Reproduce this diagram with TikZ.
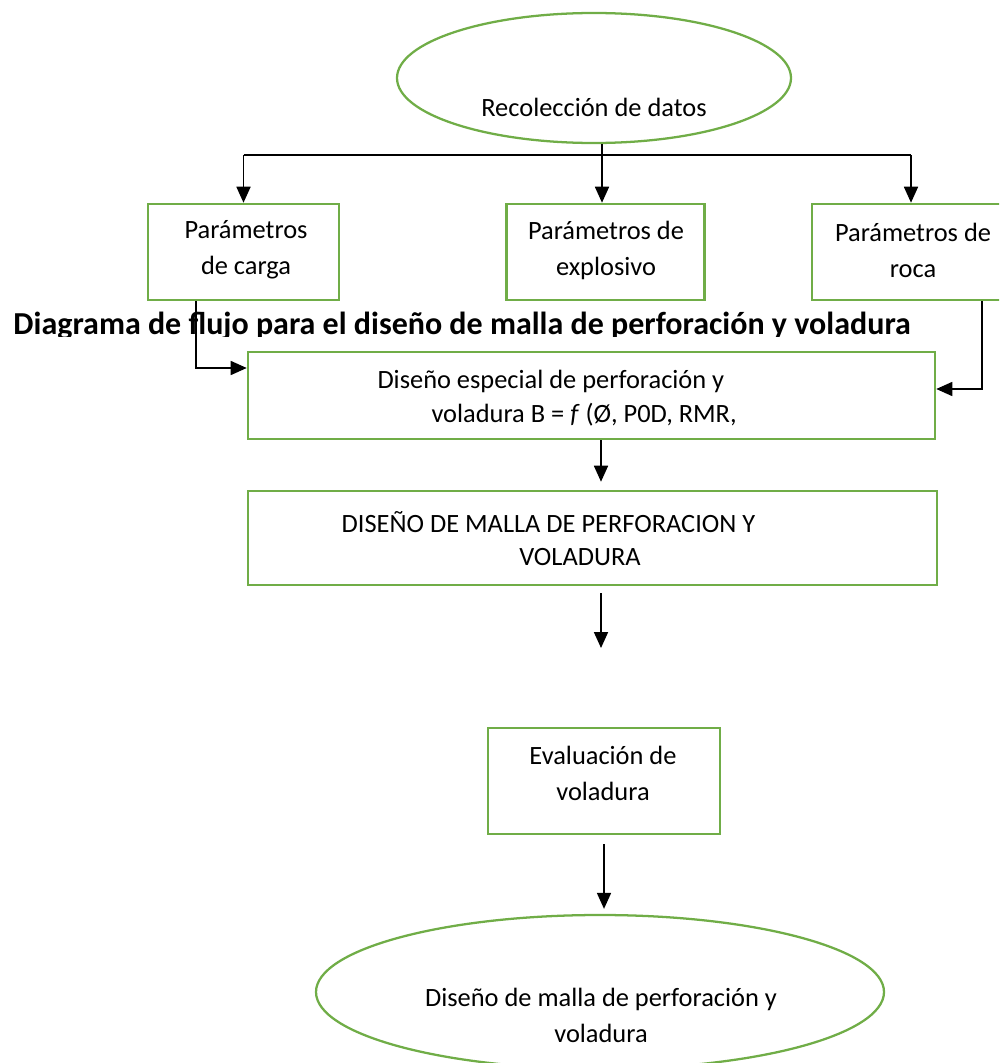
\documentclass[tikz,border=0pt]{standalone}
\usepackage{fontspec}
\setmainfont{Carlito}
\usetikzlibrary{arrows.meta,shapes.geometric,calc}

\definecolor{verde}{RGB}{112,173,71}
\tikzset{every picture/.style={line width=0.75pt}}
\tikzset{
  caja/.style={draw=verde, line width=1.9pt, rectangle, inner sep=0pt},
  elipse/.style={draw=verde, line width=1.7pt, ellipse, inner sep=0pt},
  texto/.style={inner sep=0.75pt, font=\fontsize{19.8}{27}\selectfont, align=center},
  titulo/.style={inner sep=0pt, font=\fontsize{24}{28}\selectfont\bfseries},
  linea/.style={draw=black, line width=1.1pt},
  flecha/.style={draw=black, line width=1.3pt, -{Triangle[length=12pt,width=10.5pt]}},
}

\begin{document}
\begin{tikzpicture}[x=0.75pt,y=0.75pt,yscale=-1,xscale=1]
\useasboundingbox (0,0) rectangle (999,1063);
\clip (0,0) rectangle (999,1063);

%Shape: Ellipse [id:rec]
\node [elipse, minimum width=394*0.75pt, minimum height=130*0.75pt] (rec) at (594,78) {};
%Shape: Rectangle [id:carga]
\node [caja, minimum width=191*0.75pt, minimum height=96*0.75pt] (carga) at (243.5,252) {};
%Shape: Rectangle [id:explosivo]
\node [caja, minimum width=198*0.75pt, minimum height=96*0.75pt] (explosivo) at (605.5,252) {};
%Shape: Rectangle [id:roca]
\node [caja, minimum width=198*0.75pt, minimum height=96*0.75pt] (roca) at (911,252) {};
%Shape: Rectangle [id:especial]
\node [caja, minimum width=687*0.75pt, minimum height=87*0.75pt] (especial) at (591.5,395.5) {};
%Shape: Rectangle [id:malla]
\node [caja, minimum width=689*0.75pt, minimum height=94*0.75pt] (malla) at (592.5,538) {};
%Shape: Rectangle [id:evaluacion]
\node [caja, minimum width=232*0.75pt, minimum height=106*0.75pt] (evaluacion) at (604,781) {};
%Shape: Ellipse [id:final]
\node [elipse, minimum width=568*0.75pt, minimum height=154*0.75pt] (final) at (600,992) {};

% Coordinates
\coordinate (bus) at (602,155);
\coordinate (izq) at (196,368);
\coordinate (der) at (982,389);
\coordinate (eje) at (601,0);
\coordinate (libre) at (601,648);

%Straight Lines [id:bus]
\draw [linea] (bus -| carga.north) -- (bus -| roca.north) ;
\draw [linea, line width=1.3pt] (rec.south -| bus) -- (bus) ;
\draw [flecha] (bus) -- (explosivo.north -| bus) ;
\draw [flecha] (bus -| carga.north) -- (carga.north) ;
\draw [flecha] (bus -| roca.north) -- (roca.north) ;
%Straight Lines [id:laterales]
\draw [flecha, line width=1.1pt] (carga.south -| izq) |- (especial.west |- izq) ;
\draw [flecha, line width=1.1pt] (roca.south -| der) |- (especial.east |- der) ;
%Straight Lines [id:centro]
\draw [flecha] (especial.south -| eje) -- ($(malla.north -| eje)+(0,-8)$) ;
\draw [flecha] ($(malla.south -| eje)+(0,7)$) -- (libre) ;
\draw [flecha] ($(evaluacion.south)+(0,9)$) -- ($(final.north -| evaluacion.south)+(0,-5)$) ;

% Title Node
\begin{scope}
\clip (0,0) rectangle (999,336);
\node [titulo, anchor=base west] (tit) at (13,334) {Diagrama de flujo para el diseño de malla de perforación y voladura};
\end{scope}

% Text Node
\node [texto] (trec) at (594,107) {Recolección de datos};
% Text Node
\node [texto] (tcarga) at (246,250) {Parámetros\\de carga};
% Text Node
\node [texto] (texplosivo) at (606,250) {Parámetros de\\explosivo};
% Text Node
\node [texto] (troca) at (913,250) {Parámetros de\\roca};
% Text Node
\node [texto, anchor=base west] (tesp1) at (376,388) {Diseño especial de perforación y};
% Text Node
\node [texto, anchor=base west] (tesp2) at (430,422) {voladura B = \textit{f} (Ø, P0D, RMR,};
% Text Node
\node [texto] (tmalla1) at (548.5,522) {DISEÑO DE MALLA DE PERFORACION Y};
% Text Node
\node [texto] (tmalla2) at (580,557) {VOLADURA};
% Text Node
\node [texto] (teval) at (603,773) {Evaluación de\\voladura};
% Text Node
\node [texto] (tfinal) at (601,1015) {Diseño de malla de perforación y\\voladura};

\end{tikzpicture}
\end{document}
